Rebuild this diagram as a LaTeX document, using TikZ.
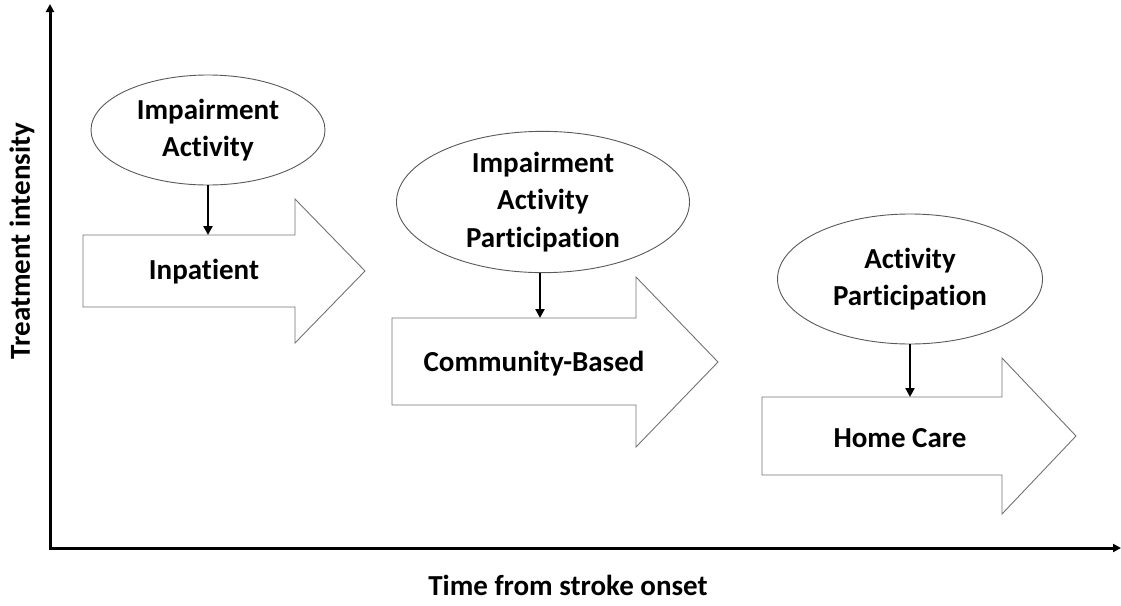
\documentclass[tikz,border=0pt]{standalone}
\usepackage{fontspec}
\setmainfont[Ligatures=NoCommon]{Carlito}
\usetikzlibrary{shapes.geometric,arrows.meta}

\begin{document}
\begin{tikzpicture}[x=1pt,y=-1pt,
  txt/.style={font=\bfseries\fontsize{29}{37.5}\selectfont, align=center, inner sep=0pt},
  stage/.style={ellipse, draw=black!65, line width=0.9pt, fill=white, inner sep=0pt, txt},
  block/.style={draw=black!55, line width=0.9pt, fill=white, line join=miter},
  conn/.style={line width=2.4pt, -{Triangle[length=9pt,width=9pt]}},
  axis/.style={line width=3pt, -{Triangle[length=8pt,width=8pt]}}
]
\useasboundingbox (0,0) rectangle (1121,605);

% axes
\coordinate (origin) at (50,548);
\coordinate (ytop) at (50,4);
\coordinate (xend) at (1121,548);
\draw[axis] (origin) -- (ytop);
\draw[axis] ([xshift=-1.5pt]origin) -- (xend);

\node[txt, rotate=90] (ylab) at (22,241) {Treatment intensity};
\node[txt] (xlab) at (568,585) {Time from stroke onset};

% block arrows for the care settings
\draw[block] (83,235) -- (295,235) -- (295,199) -- (365,271) -- (295,343) -- (295,307) -- (83,307) -- cycle;
\coordinate (b1top) at (208,235);
\node[txt] (b1) at (204,272) {Inpatient};

\draw[block] (392,318) -- (636,318) -- (636,277) -- (718,362) -- (636,447) -- (636,405) -- (392,405) -- cycle;
\coordinate (b2top) at (540,318);
\node[txt] (b2) at (534,364) {Community-Based};

\draw[block] (762,397) -- (1002,397) -- (1002,358) -- (1076,436) -- (1002,514) -- (1002,475) -- (762,475) -- cycle;
\coordinate (b3top) at (910,397);
\node[txt] (b3) at (900,438) {Home Care};

% treatment focus of each setting
\node[stage, minimum width=234pt, minimum height=110pt] (e1) at (208,130) {Impairment\\Activity};
\node[stage, minimum width=293pt, minimum height=130pt] (e2) at (543,202) {Impairment\\Activity\\Participation};
\node[stage, minimum width=265pt, minimum height=130pt] (e3) at (910,279) {Activity\\Participation};

\draw[conn] (e1.south) -- (b1top);
\draw[conn] (e2.south -| b2top) -- (b2top);
\draw[conn] (e3.south) -- (b3top);
\end{tikzpicture}
\end{document}
